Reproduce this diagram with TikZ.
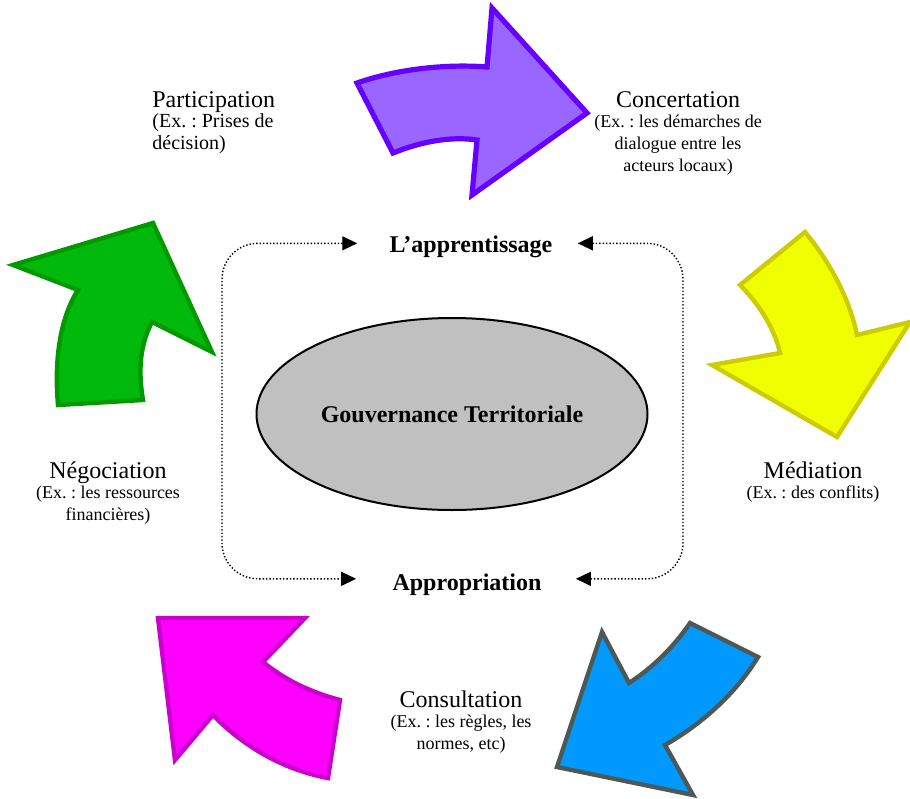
\documentclass[tikz,border=0pt]{standalone}
\usepackage{fontspec}
\setmainfont{Liberation Serif}
\usetikzlibrary{shapes.geometric}
\usetikzlibrary{arrows.meta}
\frenchspacing

\definecolor{purplefill}{RGB}{153,102,255}
\definecolor{purpleline}{RGB}{102,0,255}
\definecolor{greenfill}{RGB}{0,185,10}
\definecolor{greenline}{RGB}{0,153,0}
\definecolor{yellowfill}{RGB}{240,255,0}
\definecolor{yellowline}{RGB}{204,204,0}
\definecolor{bluefill}{RGB}{0,153,255}
\definecolor{blueline}{RGB}{77,89,89}
\definecolor{magentafill}{RGB}{255,0,255}
\definecolor{magentaline}{RGB}{204,0,204}
\definecolor{hubgray}{RGB}{192,192,192}

\newcommand\ttl[1]{{\fontsize{12}{11}\selectfont #1}}

\begin{document}
\begin{tikzpicture}[x=0.5pt, y=-0.5pt,
		bigarrow/.style={line width=2.2pt, line join=miter},
		lbl/.style={inner sep=0pt, align=center, font=\fontsize{9}{11}\selectfont},
		keyword/.style={inner sep=0pt, font=\fontsize{12}{14}\selectfont\bfseries},
		hub/.style={ellipse, draw, fill=hubgray, line width=1pt, minimum width=195.5pt, minimum height=96pt, inner sep=0pt, font=\fontsize{12}{14}\selectfont\bfseries},
		cycleline/.style={densely dotted, line width=0.7pt, rounded corners=18pt, {Triangle[length=7.5pt,width=7pt]}-{Triangle[length=7.5pt,width=7pt]}}]
			\useasboundingbox (0,0) rectangle (910,798);

			\draw[bigarrow, line width=2.6pt, draw=purpleline, fill=purplefill] (357,83) .. controls (400,68) and (450,64) .. (487,67) -- (492,8) -- (587,113) -- (472,195) -- (477,140) .. controls (450,136) and (420,142) .. (393,153) -- cycle;
			\draw[bigarrow, draw=yellowline, fill=yellowfill] (805,232) -- (740,285) .. controls (760,305) and (775,330) .. (780,353) -- (712,365) -- (837,437) -- (910,322) -- (857,335) .. controls (850,300) and (830,262) .. (805,232) -- cycle;
			\draw[bigarrow, draw=blueline, fill=bluefill] (690,623) -- (758,657) .. controls (735,695) and (700,725) .. (665,745) -- (693,795) -- (557,767) -- (602,632) -- (629,683) .. controls (652,668) and (673,648) .. (690,623) -- cycle;
			\draw[bigarrow, draw=magentaline, fill=magentafill] (158,618) -- (305,618) -- (263,662) .. controls (285,680) and (310,692) .. (340,700) -- (328,778) .. controls (285,770) and (245,748) .. (213,715) -- (175,760) -- cycle;
			\draw[bigarrow, draw=greenline, fill=greenfill] (58,405) -- (143,400) .. controls (138,370) and (140,345) .. (152,322) -- (212,352) -- (153,223) -- (13,265) -- (78,290) .. controls (60,318) and (54,360) .. (58,405) -- cycle;

			\node[hub] (gouv) at (452,414) {Gouvernance Territoriale};

			\node[keyword, anchor=base] (apprent) at (471,252) {L’apprentissage};
			\node[keyword, anchor=base] (approp) at (467,590) {Appropriation};

			\node[lbl, align=left, anchor=north west, font=\fontsize{10}{11}\selectfont] (particip) at (152,91) {\ttl{Participation}\\[-1pt](Ex. : Prises de\\décision)};
			\node[lbl, anchor=north] (concert) at (678,91) {\ttl{Concertation}\\[-1pt](Ex. : les démarches de\\dialogue entre les\\acteurs locaux)};
			\node[lbl, anchor=north] (negoc) at (108,461) {\ttl{Négociation}\\[-1pt](Ex. : les ressources\\financières)};
			\node[lbl, anchor=north] (mediat) at (813,461) {\ttl{Médiation}\\[-1pt](Ex. : des conflits)};
			\node[lbl, anchor=north] (consult) at (461,690) {\ttl{Consultation}\\[-1pt](Ex. : les règles, les\\normes, etc)};

			\coordinate (lside) at (222,414);
			\coordinate (rside) at (683,414);
			\draw[cycleline] ([xshift=-16pt,yshift=1.5pt]apprent.west) -| (lside) |- ([xshift=-18pt,yshift=2.7pt]approp.west);
			\draw[cycleline] ([xshift=12.5pt,yshift=1.5pt]apprent.east) -| (rside) |- ([xshift=17pt,yshift=2.7pt]approp.east);
\end{tikzpicture}
\end{document}
